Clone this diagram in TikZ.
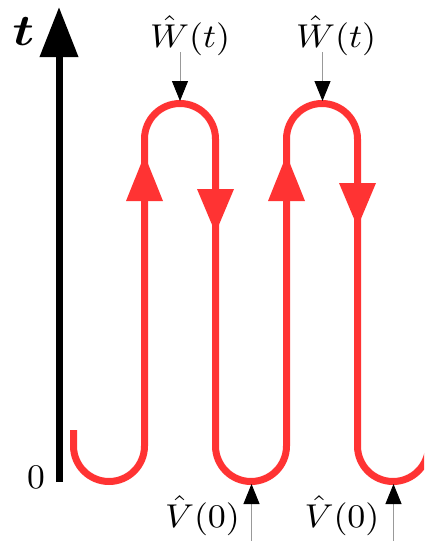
\documentclass[tikz,border=0pt]{standalone}
\usetikzlibrary{arrows.meta}
\definecolor{loopred}{RGB}{255,51,51}
% operator labels are set at 10pt and stretched to size
\newcommand\lab[1]{\scalebox{3.6}[3.3]{$#1$}}
\begin{document}
\begin{tikzpicture}[x=1pt,y=-1pt,
  contour/.style={draw=loopred, line width=7pt},
  flowtip/.style={fill=loopred},
  axisline/.style={draw=black, line width=7pt, -{Triangle[length=50pt,width=37pt]}},
  probe/.style={draw=black!40, line width=0.9pt,
    -{Triangle[length=20pt,width=16pt,color=black,fill=black]}},
  lbl/.style={inner sep=0pt, anchor=base},
]
\useasboundingbox (0,0) rectangle (424,541);
\clip (0,0) rectangle (424,541);

% time axis
\coordinate (t0) at (59,482);
\coordinate (t1) at (59,7);
\draw[axisline] (t0) -- (t1);
\node[lbl] (tlab) at (23.5,45) {\scalebox{5.2}[4.4]{\boldmath$t$}};
\node[lbl] (zero) at (36,488) {\scalebox{3.55}[3.45]{$0$}};

% folded contour
\draw[contour] (73.5,430) -- (73.5,446)
  arc[start angle=180, end angle=0, radius=35.5] -- (144.5,139)
  arc[start angle=180, end angle=360, radius=35.5] -- (215.5,446)
  arc[start angle=180, end angle=0, radius=35.5] -- (286.5,139)
  arc[start angle=180, end angle=360, radius=35.5] -- (357.5,446)
  arc[start angle=180, end angle=0, radius=35.5] -- (428.5,250);

% direction marks on the branches
\foreach \x in {144.5,286.5}
  \fill[flowtip] (\x,155) -- (\x+18.5,201) -- (\x-18.5,201) -- cycle;
\fill[flowtip] (215.5,233) -- (234,189) -- (197,189) -- cycle;
\fill[flowtip] (357.5,227) -- (376,183) -- (339,183) -- cycle;

% operator insertions
\node[lbl] (w1) at (190,47) {\lab{\hat{W}(t)}};
\node[lbl] (w2) at (336,47) {\lab{\hat{W}(t)}};
\node[lbl] (v1) at (202.5,527) {\lab{\hat{V}(0)}};
\node[lbl] (v2) at (342,527) {\lab{\hat{V}(0)}};

\coordinate (top1) at (180,101);
\coordinate (top2) at (322.5,101);
\coordinate (bot1) at (251.5,484);
\coordinate (bot2) at (393.5,484);
\coordinate (edge1) at (251.5,541);
\coordinate (edge2) at (393.5,541);

\draw[probe] ([yshift=3pt]w1.south -| top1) -- (top1);
\draw[probe] ([yshift=3pt]w2.south -| top2) -- (top2);
\draw[probe] (edge1) -- (bot1);
\draw[probe] (edge2) -- (bot2);
\end{tikzpicture}
\end{document}
